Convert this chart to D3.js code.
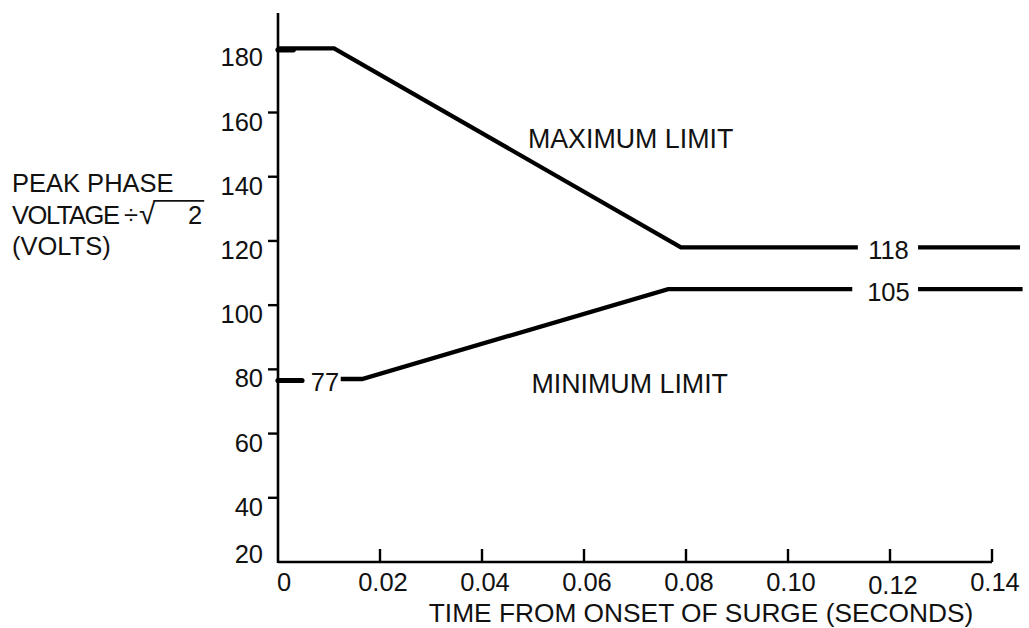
<!DOCTYPE html>
<html>
<head>
<meta charset="utf-8">
<script src="https://cdn.jsdelivr.net/npm/d3@7"></script>
<style>
  html, body { margin: 0; padding: 0; background: #fff; }
  svg { display: block; }
  text { font-family: "Liberation Sans", Arial, Helvetica, sans-serif; fill: #111; }
</style>
</head>
<body>
<svg id="chart" width="1029" height="628"></svg>
<script>
// Axis ticks
const xTicks = [0, 0.02, 0.04, 0.06, 0.08, 0.10, 0.12, 0.14];
const xTickLabels = ["0", "0.02", "0.04", "0.06", "0.08", "0.10", "0.12", "0.14"];
const yTicks = [20, 40, 60, 80, 100, 120, 140, 160, 180];
const yTickLabels = ["20", "40", "60", "80", "100", "120", "140", "160", "180"];

// Maximum limit envelope: [time (s), volts]
const maxLimitMain = [[0, 180], [0.011, 180], [0.079, 118], [0.1137, 118]];
const maxLimitTail = [[0.1255, 118], [0.1455, 118]];
const maxLimitStart = [[0, 180], [0.003, 180]];

// Minimum limit envelope
const minLimitStart = [[0, 77], [0.0047, 77]];
const minLimitMain = [[0.0123, 77], [0.0165, 77], [0.0765, 105], [0.1126, 105]];
const minLimitTail = [[0.1255, 105], [0.146, 105]];

// Values written along the envelopes
const valueLabels = [
  { text: "118", t: 0.1197, v: 118 },
  { text: "105", t: 0.1197, v: 105 },
  { text: "77",  t: 0.0092, v: 77 }
];
const curveLabels = [
  { text: "MAXIMUM LIMIT", t: 0.049, v: 149 },
  { text: "MINIMUM LIMIT", t: 0.0497, v: 72.6 }
];

const yTitleLines = ["PEAK PHASE", "VOLTAGE", "(VOLTS)"];
const xTitle = "TIME FROM ONSET OF SURGE (SECONDS)";

const svg = d3.select("#chart");
const FONT = '"Liberation Sans", Arial, Helvetica, sans-serif';
const FS = 25.5;

const x = d3.scaleLinear().domain([0, 0.14]).range([278, 992]);
const y = d3.scaleLinear().domain([20, 191]).range([562, 13]);

// Axis lines
svg.append("line")
  .attr("x1", x(0)).attr("x2", x(0))
  .attr("y1", y(20) + 1).attr("y2", y(191))
  .attr("stroke", "#000").attr("stroke-width", 2.6);
svg.append("line")
  .attr("x1", x(0)).attr("x2", x(0.14))
  .attr("y1", y(20)).attr("y2", y(20))
  .attr("stroke", "#000").attr("stroke-width", 2.6);

// Y ticks (pointing left) and labels
svg.append("g").selectAll("line")
  .data(yTicks.filter(d => d > 20 && d < 180))
  .join("line")
  .attr("x1", x(0) - 10).attr("x2", x(0))
  .attr("y1", d => y(d)).attr("y2", d => y(d))
  .attr("stroke", "#000").attr("stroke-width", 2.4);

svg.append("g").selectAll("text")
  .data(yTicks)
  .join("text")
  .attr("x", x(0) - 15)
  .attr("y", d => d === 20 ? y(d) + 1 : y(d) + 18)
  .attr("text-anchor", "end")
  .attr("font-size", FS)
  .text((d, i) => yTickLabels[i]);

// X ticks (pointing up) and labels
svg.append("g").selectAll("line")
  .data(xTicks.filter(d => d > 0))
  .join("line")
  .attr("x1", d => x(d)).attr("x2", d => x(d))
  .attr("y1", y(20)).attr("y2", y(20) - 13)
  .attr("stroke", "#000").attr("stroke-width", 2.4);

svg.append("g").selectAll("text")
  .data(xTicks)
  .join("text")
  .attr("x", d => x(d) + (d === 0 ? 6 : 3))
  .attr("y", (d, i) => xTickLabels[i] === "0.12" ? 593.5 : 590.5)
  .attr("text-anchor", "middle")
  .attr("font-size", FS)
  .text((d, i) => xTickLabels[i]);

// Axis titles
svg.append("text")
  .attr("x", 701).attr("y", 621.5)
  .attr("text-anchor", "middle")
  .attr("font-size", 26.3)
  .text(xTitle);

const VOLT_W = 108;
const yTitle = svg.append("g");
yTitleLines.forEach((s, i) => {
  const t = yTitle.append("text")
    .attr("x", 12).attr("y", 192 + i * 31.5)
    .attr("font-size", FS)
    .text(s);
  if (i === 1) t.attr("textLength", VOLT_W).attr("lengthAdjust", "spacing");
});

// Ink extent of a glyph: top row and right-most column (relative to baseline / origin)
function glyphInk(ch, size) {
  const c = document.createElement("canvas");
  c.width = size * 3; c.height = size * 3;
  const ctx = c.getContext("2d");
  ctx.font = `${size}px ${FONT}`;
  ctx.fillStyle = "#000";
  const ox = size * 0.5, base = size * 2;
  ctx.fillText(ch, ox, base);
  const data = ctx.getImageData(0, 0, c.width, c.height).data;
  let top = null, right = 0;
  for (let r = 0; r < c.height; r++) {
    for (let col = 0; col < c.width; col++) {
      if (data[(r * c.width + col) * 4 + 3] > 100) {
        if (top === null) top = r;
        if (col > right) right = col;
      }
    }
  }
  return { top: top === null ? -0.8 * size : top - base, right: right - ox + 1 };
}

// "÷ √2" after VOLTAGE, with the radical's bar over the 2
const base2 = 192 + 31.5;
const divX = 12 + VOLT_W + 4;
const div = yTitle.append("text").attr("x", divX).attr("y", base2)
  .attr("font-size", FS).text("\u00F7");
const radX = divX + div.node().getComputedTextLength() + 1;
const RS = 30;
yTitle.append("text").attr("x", radX).attr("y", base2 + 0.5)
  .attr("font-size", RS).text("\u221A");
const ink = glyphInk("\u221A", RS);
const radEnd = radX + ink.right;
const barY = base2 + 0.5 + ink.top + 0.9;
const twoX = radX + 49;
const two = yTitle.append("text").attr("x", twoX).attr("y", base2)
  .attr("font-size", FS).text("2");
const twoEnd = twoX + two.node().getComputedTextLength();
yTitle.append("line")
  .attr("x1", radEnd - 1.5).attr("x2", twoEnd + 2)
  .attr("y1", barY).attr("y2", barY)
  .attr("stroke", "#111").attr("stroke-width", 1.8);

// Envelope lines
const line = d3.line().x(d => x(d[0])).y(d => y(d[1]));
const paths = svg.append("g").attr("fill", "none").attr("stroke", "#000")
  .attr("stroke-linejoin", "miter").attr("stroke-linecap", "butt");
[maxLimitMain, maxLimitTail, minLimitMain, minLimitTail].forEach(seg => {
  paths.append("path").attr("d", line(seg)).attr("stroke-width", 4.3);
});
[maxLimitStart, minLimitStart].forEach(seg => {
  paths.append("path").attr("d", line(seg))
    .attr("stroke-width", 5.2).attr("stroke-linecap", "round")
    .attr("transform", "translate(0,1.5)");
});

// Value labels on the envelopes
svg.append("g").selectAll("text")
  .data(valueLabels)
  .join("text")
  .attr("x", d => x(d.t)).attr("y", d => y(d.v) + 12)
  .attr("text-anchor", "middle")
  .attr("font-size", FS)
  .text(d => d.text);

svg.append("g").selectAll("text")
  .data(curveLabels)
  .join("text")
  .attr("x", d => x(d.t)).attr("y", d => y(d.v))
  .attr("font-size", 26.8)
  .text(d => d.text);
</script>
</body>
</html>
